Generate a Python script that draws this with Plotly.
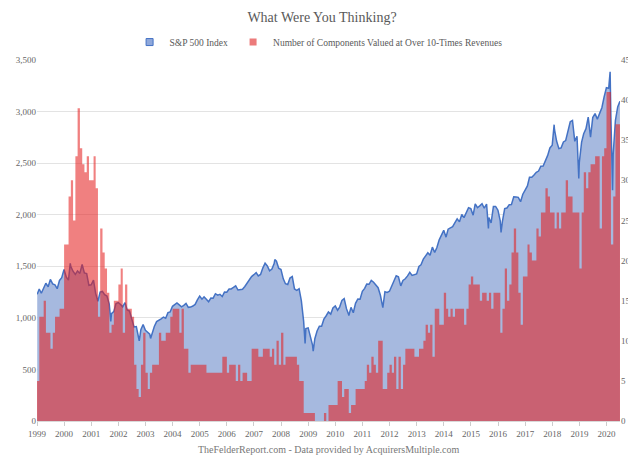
import pandas as pd
import plotly.graph_objects as go

# monthly S&P 500 closes, Jan 1999 .. Jun 2020
sp_close = [
    1279.6, 1238.3, 1286.4, 1335.2, 1301.8, 1372.7, 1328.7, 1320.4, 1282.7, 1362.9, 1389.0, 1469.3,
    1394.5, 1366.4, 1498.6, 1452.4, 1420.6, 1454.6, 1430.8, 1517.7, 1436.5, 1429.4, 1315.2, 1320.3,
    1366.0, 1239.9, 1160.3, 1249.5, 1256.0, 1224.4, 1211.2, 1133.6, 1040.9, 1059.8, 1139.5, 1148.1,
    1130.2, 1106.7, 1147.4, 1076.9, 1067.1, 989.8, 911.6, 916.1, 815.3, 885.8, 936.3, 879.8,
    855.7, 841.2, 848.2, 916.9, 963.6, 974.5, 990.3, 1008.0, 996.0, 1050.7, 1058.2, 1111.9,
    1131.1, 1144.9, 1126.2, 1107.3, 1120.7, 1140.8, 1101.7, 1104.2, 1114.6, 1130.2, 1173.8, 1211.9,
    1181.3, 1203.6, 1180.6, 1156.9, 1191.5, 1191.3, 1234.2, 1220.3, 1228.8, 1207.0, 1249.5, 1248.3,
    1280.1, 1280.7, 1294.8, 1310.6, 1270.1, 1270.2, 1276.7, 1303.8, 1335.9, 1377.9, 1400.6, 1418.3,
    1438.2, 1406.8, 1420.9, 1482.4, 1530.6, 1503.4, 1455.3, 1474.0, 1526.8, 1549.4, 1481.1, 1468.4,
    1378.6, 1330.6, 1322.7, 1385.6, 1400.4, 1280.0, 1267.4, 1282.8, 1166.4, 968.8, 896.2, 903.3,
    825.9, 735.1, 797.9, 872.8, 919.1, 919.3, 987.5, 1020.6, 1057.1, 1036.2, 1095.6, 1115.1,
    1073.9, 1104.5, 1169.4, 1186.7, 1089.4, 1030.7, 1101.6, 1049.3, 1141.2, 1183.3, 1180.6, 1257.6,
    1286.1, 1327.2, 1325.8, 1363.6, 1345.2, 1320.6, 1292.3, 1218.9, 1131.4, 1253.3, 1247.0, 1257.6,
    1312.4, 1365.7, 1408.5, 1397.9, 1310.3, 1362.2, 1379.3, 1406.6, 1440.7, 1412.2, 1416.2, 1426.2,
    1498.1, 1514.7, 1569.2, 1597.6, 1630.7, 1606.3, 1685.7, 1633.0, 1681.6, 1756.5, 1805.8, 1848.4,
    1782.6, 1859.5, 1872.3, 1883.9, 1923.6, 1960.2, 1930.7, 2003.4, 1972.3, 2018.1, 2067.6, 2058.9,
    1995.0, 2104.5, 2067.9, 2085.5, 2107.4, 2063.1, 2104.0, 1972.2, 1920.0, 2079.4, 2080.4, 2043.9,
    1940.2, 1932.2, 2059.7, 2065.3, 2097.0, 2098.9, 2173.6, 2171.0, 2168.3, 2126.2, 2199.0, 2238.8,
    2278.9, 2363.6, 2362.7, 2384.2, 2411.8, 2423.4, 2470.3, 2471.7, 2519.4, 2575.3, 2647.6, 2673.6,
    2823.8, 2713.8, 2640.9, 2648.1, 2705.3, 2718.4, 2816.3, 2901.5, 2914.0, 2711.7, 2760.2, 2506.9,
    2704.1, 2784.5, 2834.4, 2945.8, 2752.1, 2941.8, 2980.4, 2926.5, 2976.7, 3037.6, 3141.0, 3230.8,
    3225.5, 2954.2, 2584.6, 2912.4, 3044.3, 3100.3,
]

# intra-month highs and lows visible on the line
sp_extra_dates = ['1999-01-04', '2000-03-24', '2001-09-21', '2002-10-09', '2003-03-11',
                  '2007-10-09', '2008-11-20', '2009-03-09', '2010-07-02', '2011-10-03',
                  '2015-08-25', '2016-02-11', '2018-01-26', '2018-12-24', '2020-02-19',
                  '2020-03-23']
sp_extra_values = [1228.1, 1527.5, 965.8, 776.8, 800.7,
                   1565.2, 752.4, 676.5, 1022.6, 1099.2,
                   1867.6, 1829.1, 2872.9, 2351.1, 3386.2,
                   2237.4]

# number of components valued at over 10x revenues, Jan 1999 .. Jun 2020
components = [
    5, 13, 13, 15, 11, 11, 9, 11, 13, 13, 14, 14,
    22, 22, 28, 30, 25, 33, 39, 34, 32, 31, 33, 30,
    30, 33, 29, 13, 24, 21, 19, 16, 11, 12, 15, 15,
    17, 19, 11, 17, 14, 14, 13, 7, 4, 3, 7, 11,
    6, 4, 6, 7, 7, 7, 11, 10, 10, 11, 11, 13,
    14, 14, 14, 11, 14, 9, 9, 6, 7, 7, 7, 7,
    7, 7, 7, 6, 6, 6, 6, 6, 6, 6, 8, 8,
    6, 7, 7, 7, 5, 7, 5, 6, 6, 5, 5, 9,
    9, 9, 8, 8, 9, 9, 9, 8, 9, 7, 10, 7,
    11, 7, 8, 8, 8, 8, 8, 7, 5, 5, 1, 1,
    1, 1, 1, 0, 0, 0, 0, 1, 0, 2, 2, 2,
    2, 5, 5, 3, 4, 4, 1, 2, 2, 4, 4, 4,
    4, 5, 7, 6, 8, 7, 6, 10, 10, 4, 4, 6,
    7, 6, 8, 4, 8, 4, 7, 9, 9, 9, 9, 8,
    8, 9, 9, 10, 12, 11, 12, 8, 14, 14, 12, 12,
    16, 14, 13, 14, 13, 14, 14, 14, 14, 12, 14, 17,
    18, 17, 17, 17, 15, 16, 16, 15, 16, 14, 16, 16,
    16, 11, 14, 19, 15, 17, 21, 24, 21, 16, 12, 18,
    18, 22, 21, 20, 20, 24, 23, 26, 26, 29, 28, 26,
    26, 24, 26, 24, 26, 26, 30, 28, 28, 26, 26, 26,
    19, 26, 31, 29, 31, 32, 32, 33, 33, 24, 33, 34,
    41, 41, 22, 28, 37, 37,
]

year_labels = [str(y) for y in range(1999, 2021)]

FONT = 'Liberation Serif'
GREY = '#666666'

# S&P line: month ends plus the extra extremes, sorted by date
sp = pd.DataFrame({'date': pd.date_range('1999-01-31', periods=len(sp_close), freq='ME'),
                   'value': sp_close})
extra = pd.DataFrame({'date': pd.to_datetime(sp_extra_dates), 'value': sp_extra_values})
sp = pd.concat([sp, extra]).sort_values('date')

# step series for the components, closed at the end of the last month
month_starts = list(pd.date_range('1999-01-01', periods=len(components), freq='MS'))
comp_x = month_starts + [pd.Timestamp('2020-07-01')]
comp_y = components + [components[-1]]

fig = go.Figure()

fig.add_trace(go.Scatter(
    x=sp['date'], y=sp['value'], mode='lines',
    line=dict(color='#4472c4', width=1.5),
    fill='tozeroy', fillcolor='#a6b9df',
    name='S&P 500 Index', showlegend=False, yaxis='y'))

fig.add_trace(go.Scatter(
    x=comp_x, y=comp_y, mode='lines', line_shape='hv',
    line=dict(width=0, color='rgba(229,29,29,0.56)'),
    fill='tozeroy', fillcolor='rgba(229,29,29,0.56)',
    name='Number of Components Valued at Over 10-Times Revenues',
    showlegend=False, yaxis='y2'))

# legend entries with square swatches
fig.add_trace(go.Scatter(x=[None], y=[None], mode='markers', name='S&P 500 Index',
                         marker=dict(symbol='square', size=7, color='#8fa8db',
                                     line=dict(color='#4472c4', width=1))))
fig.add_trace(go.Scatter(x=[None], y=[None], mode='markers',
                         name='Number of Components Valued at Over 10-Times Revenues',
                         marker=dict(symbol='square', size=7, color='#ec7b7b')))

# the page body adds an 8px offset, so the figure is 8px smaller than the window
fig.update_layout(
    width=628, height=448,
    margin=dict(l=29, r=16, t=52, b=35, autoexpand=False),
    paper_bgcolor='white', plot_bgcolor='white',
    font=dict(family=FONT, color=GREY),
    title=dict(text='What Were You Thinking?', x=0.5, xanchor='center',
               y=0.98, yanchor='middle', font=dict(size=14, color='#595959')),
    legend=dict(orientation='h', x=0.483, xanchor='center', yref='container',
                y=0.924, yanchor='middle', font=dict(size=9.5, color='#595959'),
                itemwidth=30, tracegroupgap=0),
    xaxis=dict(type='date', range=['1999-01-01', '2020-07-01'],
               tickvals=[f'{y}-01-01' for y in year_labels], ticktext=year_labels,
               ticks='outside', ticklen=4, tickcolor='#cccccc',
               showgrid=False, showline=True, linecolor='#d9d9d9',
               tickfont=dict(size=9, color=GREY)),
    yaxis=dict(range=[0, 3500], dtick=500, tickformat=',', showgrid=True,
               gridcolor='#e3e3e3', zeroline=False, ticks='',
               tickfont=dict(size=9, color=GREY)),
    yaxis2=dict(range=[0, 45], dtick=5, overlaying='y', side='right',
                showgrid=False, zeroline=False, tickfont=dict(size=9, color=GREY)),
    annotations=[dict(text='TheFelderReport.com - Data provided by AcquirersMultiple.com',
                      xref='paper', yref='paper', x=0.5, y=-0.0776,
                      xanchor='center', yanchor='middle', showarrow=False,
                      font=dict(size=10, color='#777777'))],
)

fig.write_html('out.html')
